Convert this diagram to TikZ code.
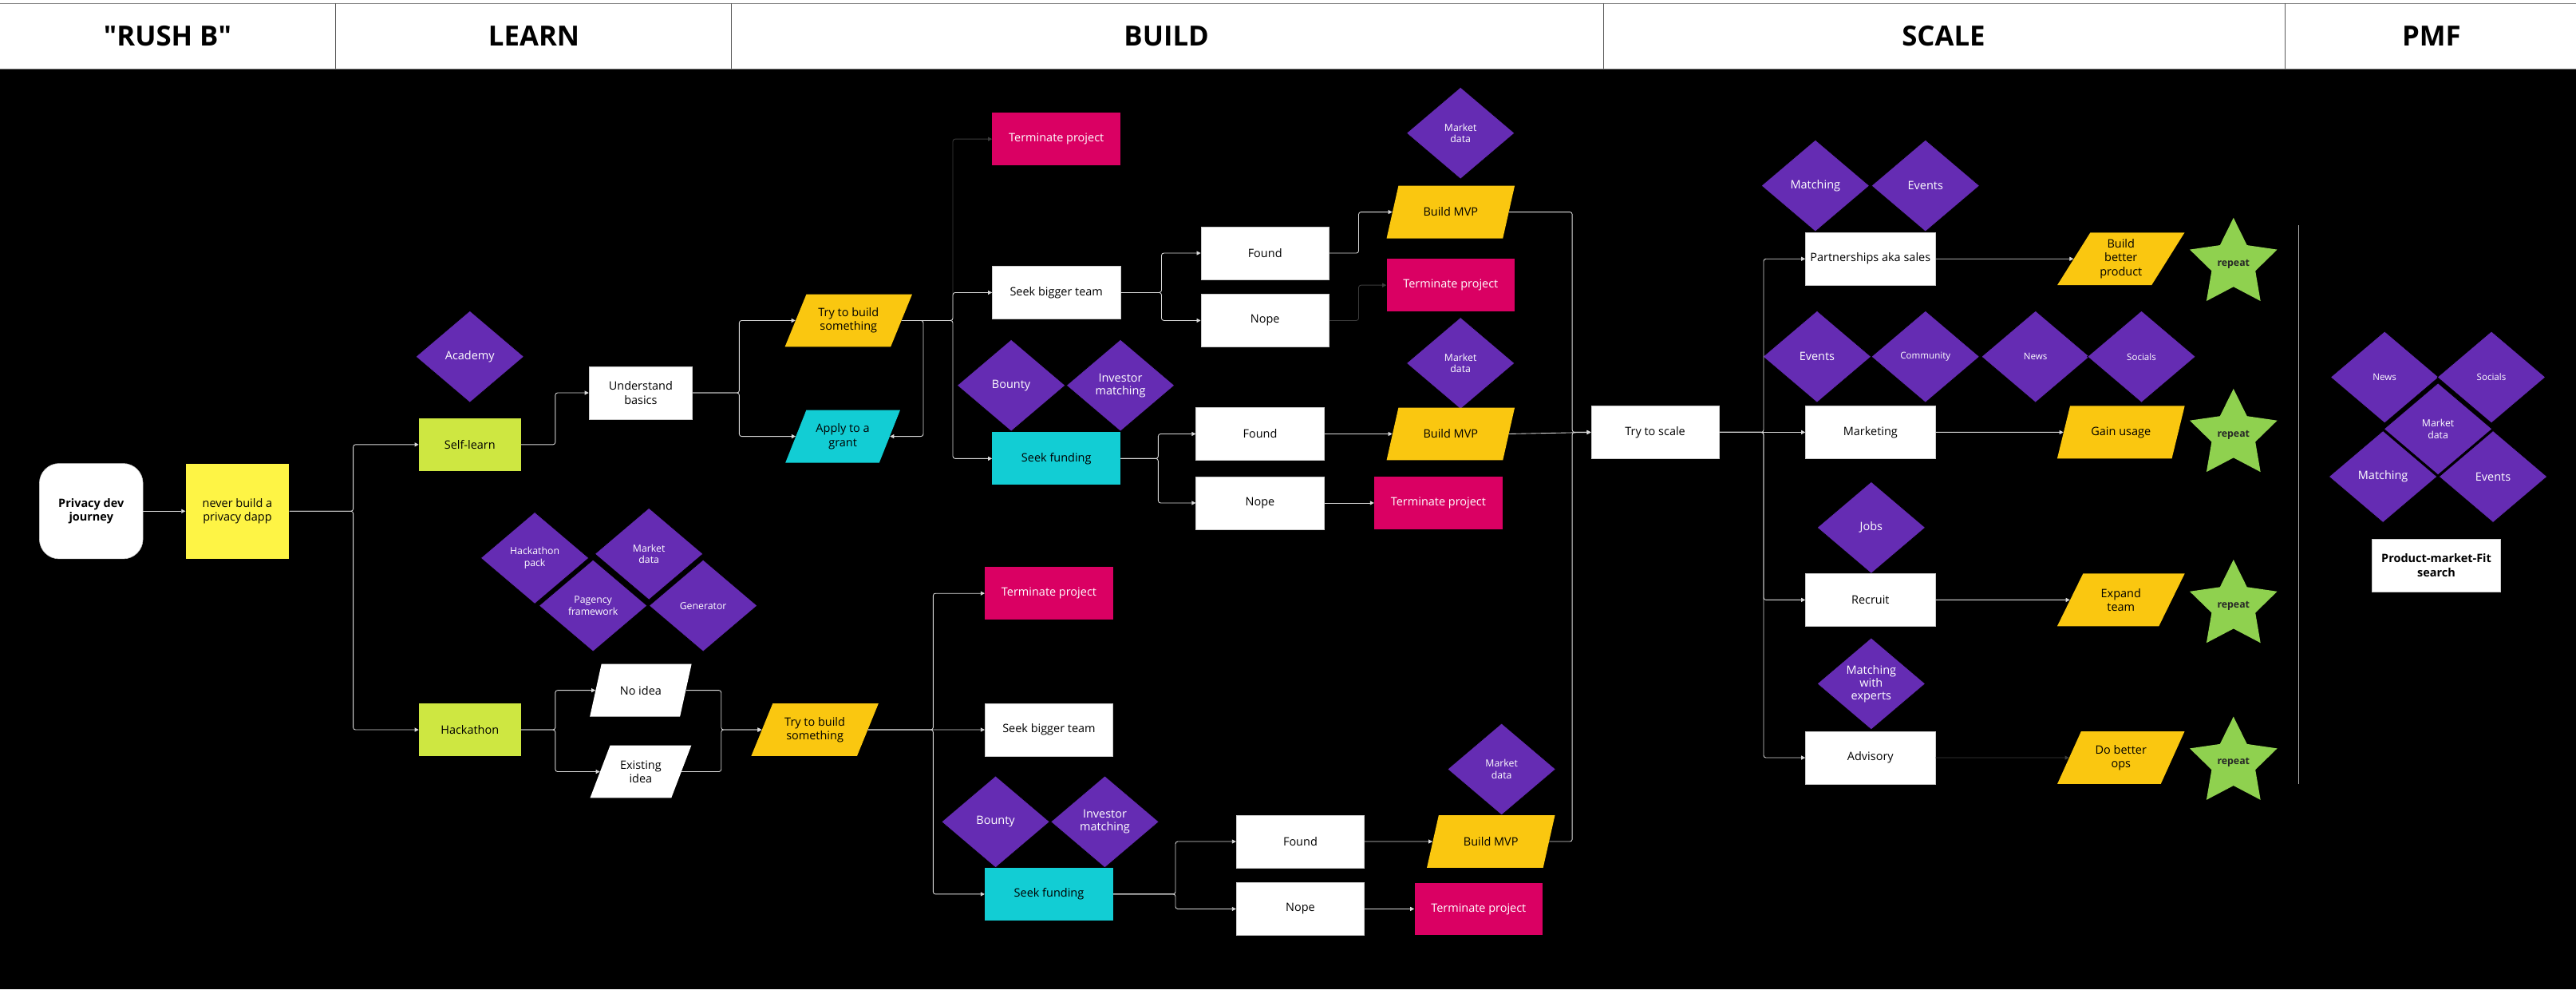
\documentclass[tikz,border=0pt]{standalone}
\usepackage{fontspec}
\setmainfont{Open Sans}
\usetikzlibrary{arrows.meta,shapes.geometric}
\definecolor{tagpurple}{HTML}{652CB3}
\definecolor{killred}{HTML}{DA0063}
\definecolor{buildgold}{HTML}{FAC710}
\definecolor{grantcyan}{HTML}{12CDD4}
\definecolor{learnlime}{HTML}{CEE741}
\definecolor{stickyyellow}{HTML}{FEF445}
\definecolor{repgreen}{HTML}{8FD14F}
\definecolor{linegray}{HTML}{D9D9D9}
\definecolor{dimgray}{HTML}{3C3C3C}
\tikzset{>={Triangle[length=3.5pt,width=3.5pt]}}
\tikzset{
  box/.style={draw=gray!40,fill=white,minimum width=3.9cm,minimum height=1.6cm,inner sep=1pt,align=center,font=\fontsize{10}{12}\selectfont},
  killbox/.style={box,draw=none,fill=killred,text=white},
  fundbox/.style={box,draw=none,fill=grantcyan},
  learnbox/.style={box,draw=none,fill=learnlime,minimum width=3.1cm},
  tag/.style={diamond,draw=black,line width=0.5pt,fill=tagpurple,text=white,minimum width=3.3cm,minimum height=2.8cm,inner sep=0pt,align=center,font=\fontsize{10}{11}\selectfont},
  smalltag/.style={tag,font=\fontsize{8.5}{10}\selectfont},
  tinytag/.style={tag,font=\fontsize{8}{9.5}\selectfont},
  io/.style={trapezium,trapezium left angle=60,trapezium right angle=120,trapezium stretches=true,minimum width=3.9cm,minimum height=1.6cm,inner sep=1pt,fill=buildgold,align=center,font=\fontsize{10}{12}\selectfont},
  rep/.style={star,star points=5,star point ratio=2,minimum size=2.8cm,inner sep=0pt,fill=repgreen,text=black!85,font=\fontsize{8.5}{10}\selectfont\bfseries},
  head/.style={font=\fontsize{24}{28}\selectfont\bfseries},
  conn/.style={->,draw=linegray,line width=0.6pt,rounded corners=2pt},
  dimconn/.style={conn,draw=dimgray},
}

\begin{document}
\begin{tikzpicture}[x=0.05cm,y=-0.05cm]
  \useasboundingbox (0,0) rectangle (1568,602);
  \fill[white] (0,0) rectangle (1568,42);
  \fill[black] (0,42) rectangle (1568,602);
  \draw[gray,line width=0.8pt] (0,2) -- (1568,2) (0,42) -- (1568,42);
  \foreach \xd in {204,445,976,1391}
    \draw[gray!70!black,line width=0.6pt] (\xd,2) -- (\xd,42);

  \node[head](hRush) at (102,22) {\textquotedbl RUSH B\textquotedbl};
  \node[head](hLearn) at (325,22) {LEARN};
  \node[head](hBuild) at (710,22) {BUILD};
  \node[head](hScale) at (1183,22) {SCALE};
  \node[head](hPmf) at (1480,22) {PMF};

  \coordinate (jN) at (215,0);
  \coordinate (jL) at (338,0);
  \coordinate (jU) at (450,0);
  \coordinate (jH) at (338,0);
  \coordinate (jI) at (439,0);
  \coordinate (jG) at (562,0);
  \coordinate (jT) at (580,0);
  \coordinate (jA) at (707,0);
  \coordinate (jF) at (827,0);
  \coordinate (jA2) at (705,0);
  \coordinate (jTB) at (568,0);
  \coordinate (jB2) at (715.5,0);
  \coordinate (jM) at (957,0);
  \coordinate (jS) at (1073.5,0);

  \node[box,rounded corners=0.6cm,minimum width=3.15cm,minimum height=2.9cm,font=\fontsize{10}{12}\selectfont\bfseries](pdj) at (55.5,311) {Privacy dev\\journey};
  \node[box,draw=none,fill=stickyyellow,minimum width=3.15cm,minimum height=2.9cm](never) at (144.5,311) {never build a\\privacy dapp};

  \node[tag](academy) at (286,217) {Academy};
  \node[learnbox](self) at (286,270.5) {Self-learn};
  \node[box,minimum width=3.15cm](basics) at (390,239) {Understand\\basics};

  \node[smalltag](hpack) at (325.5,339.5) {Hackathon\\pack};
  \node[smalltag](hmkt) at (395,337) {Market\\data};
  \node[smalltag](pagency) at (361,368.5) {Pagency\\framework};
  \node[smalltag](gen) at (428,368.5) {Generator};
  \node[learnbox](hack) at (286,444) {Hackathon};
  \node[io,fill=white,minimum width=3.1cm](noidea) at (390,420) {No idea};
  \node[io,fill=white,minimum width=3.1cm](existing) at (390,469.5) {Existing\\idea};

  \node[io](tryA) at (516.5,195) {Try to build\\something};
  \node[io,fill=grantcyan,minimum width=3.5cm](grant) at (513,265.5) {Apply to a\\grant};
  \node[io](tryB) at (496,444) {Try to build\\something};

  \node[killbox](killA) at (643,84.6) {Terminate project};
  \node[box](teamA) at (643,178) {Seek bigger team};
  \node[tag](bountyA) at (615.5,234.5) {Bounty};
  \node[tag](investA) at (682,234.5) {Investor\\matching};
  \node[fundbox](fundA) at (643,279) {Seek funding};
  \node[box](foundA1) at (770,154) {Found};
  \node[box](nopeA1) at (770,195) {Nope};
  \node[smalltag](mktA1) at (889,81) {Market\\data};
  \node[io](mvpA1) at (883,129) {Build MVP};
  \node[killbox](killA1) at (883,173.5) {Terminate project};
  \node[smalltag](mktA2) at (889,221) {Market\\data};
  \node[box](foundA2) at (767,264) {Found};
  \node[box](nopeA2) at (767,306) {Nope};
  \node[io](mvpA2) at (883,264) {Build MVP};
  \node[killbox](killA2) at (875.5,306) {Terminate project};

  \node[killbox](killB) at (638.5,361) {Terminate project};
  \node[box](teamB) at (638.5,444) {Seek bigger team};
  \node[tag](bountyB) at (606,500) {Bounty};
  \node[tag](investB) at (672.5,500) {Investor\\matching};
  \node[fundbox](fundB) at (638.5,544) {Seek funding};
  \node[box](foundB) at (791.5,512) {Found};
  \node[box](nopeB) at (791.5,553) {Nope};
  \node[smalltag](mktB) at (914,468) {Market\\data};
  \node[io](mvpB) at (907.5,512) {Build MVP};
  \node[killbox](killB2) at (900,553) {Terminate project};

  \node[box](scale) at (1007.5,263) {Try to scale};
  \node[tag](matchS) at (1105,113) {Matching};
  \node[tag](eventsS) at (1172,113) {Events};
  \node[box,minimum width=3.95cm](partner) at (1138.5,157.5) {Partnerships aka sales};
  \node[tag](eventsM) at (1106,217) {Events};
  \node[tinytag](community) at (1172,217) {Community};
  \node[tinytag](newsM) at (1239,217) {News};
  \node[tinytag](socialsM) at (1303.5,217) {Socials};
  \node[box,minimum width=3.95cm](market) at (1138.5,263) {Marketing};
  \node[tag](jobs) at (1139,321) {Jobs};
  \node[box,minimum width=3.95cm](recruit) at (1138.5,365) {Recruit};
  \node[tag](experts) at (1139,416) {Matching\\with\\experts};
  \node[box,minimum width=3.95cm](advisory) at (1138.5,461) {Advisory};

  \node[io](better) at (1291,157.5) {Build\\better\\product};
  \node[io](gain) at (1291,263) {Gain usage};
  \node[io](expand) at (1291,365) {Expand\\team};
  \node[io](ops) at (1291,461) {Do better\\ops};
  \node[rep](repA) at (1359.5,160.5) {\makebox[0pt]{repeat}};
  \node[rep](repB) at (1359.5,264.5) {\makebox[0pt]{repeat}};
  \node[rep](repC) at (1359.5,368.5) {\makebox[0pt]{repeat}};
  \node[rep](repD) at (1359.5,464) {\makebox[0pt]{repeat}};

  \draw[gray!60,line width=0.8pt] (1399,137) -- (1399,477);

  \node[tinytag](newsP) at (1451.5,229.5) {News};
  \node[tinytag](socialsP) at (1516.5,229.5) {Socials};
  \node[smalltag](mktP) at (1484,261) {Market\\data};
  \node[tag](matchP) at (1450.5,290) {Matching};
  \node[tag](eventsP) at (1517.5,290) {Events};
  \node[box,minimum width=3.9cm,font=\fontsize{10}{12}\selectfont\bfseries](pmf) at (1483,344) {Product-market-Fit\\search};

  \draw[conn] (pdj.east) -- (never.west);
  \draw[conn] (never.east) -- (never.east -| jN) |- (self.west);
  \draw[conn] (never.east) -- (never.east -| jN) |- (hack.west);
  \draw[conn] (self.east) -- (self.east -| jL) |- (basics.west);
  \draw[conn] (basics.east) -- (basics.east -| jU) |- (tryA.west);
  \draw[conn] (basics.east) -- (basics.east -| jU) |- (grant.west);
  \draw[conn] (hack.east) -- (hack.east -| jH) |- (noidea.west);
  \draw[conn] (hack.east) -- (hack.east -| jH) |- (existing.west);
  \draw[conn] (noidea.east) -- (noidea.east -| jI) |- (tryB.west);
  \draw[conn] (existing.east) -- (existing.east -| jI) |- (tryB.west);

  \draw[dimconn] (tryA.east) -- (tryA.east -| jT) |- (killA.west);
  \draw[conn] (tryA.east) -- (tryA.east -| jG) |- (grant.east);
  \draw[conn] (tryA.east) -- (tryA.east -| jT) |- (teamA.west);
  \draw[conn] (tryA.east) -- (tryA.east -| jT) |- (fundA.west);
  \draw[conn] (teamA.east) -- (teamA.east -| jA) |- (foundA1.west);
  \draw[conn] (teamA.east) -- (teamA.east -| jA) |- (nopeA1.west);
  \draw[conn] (foundA1.east) -- (foundA1.east -| jF) |- (mvpA1.west);
  \draw[dimconn] (nopeA1.east) -- (nopeA1.east -| jF) |- (killA1.west);
  \draw[conn] (fundA.east) -- (fundA.east -| jA2) |- (foundA2.west);
  \draw[conn] (fundA.east) -- (fundA.east -| jA2) |- (nopeA2.west);
  \draw[conn] (foundA2.east) -- (mvpA2.west);
  \draw[conn] (nopeA2.east) -- (killA2.west);

  \draw[conn] (tryB.east) -- (tryB.east -| jTB) |- (killB.west);
  \draw[conn] (tryB.east) -- (teamB.west);
  \draw[conn] (tryB.east) -- (tryB.east -| jTB) |- (fundB.west);
  \draw[conn] (fundB.east) -- (fundB.east -| jB2) |- (foundB.west);
  \draw[conn] (fundB.east) -- (fundB.east -| jB2) |- (nopeB.west);
  \draw[conn] (foundB.east) -- (mvpB.west);
  \draw[conn] (nopeB.east) -- (killB2.west);

  \draw[conn] (mvpA1.east) -- (mvpA1.east -| jM) |- (scale.west);
  \draw[conn] (mvpA2.east) -- (scale.west);
  \draw[conn] (mvpB.east) -- (mvpB.east -| jM) |- (scale.west);

  \draw[conn] (scale.east) -- (scale.east -| jS) |- (partner.west);
  \draw[conn] (scale.east) -- (market.west);
  \draw[conn] (scale.east) -- (scale.east -| jS) |- (recruit.west);
  \draw[conn] (scale.east) -- (scale.east -| jS) |- (advisory.west);
  \draw[conn] (partner.east) -- (better.west);
  \draw[conn] (market.east) -- (gain.west);
  \draw[conn] (recruit.east) -- (expand.west);
  \draw[dimconn] (advisory.east) -- (ops.west);
\end{tikzpicture}
\end{document}
